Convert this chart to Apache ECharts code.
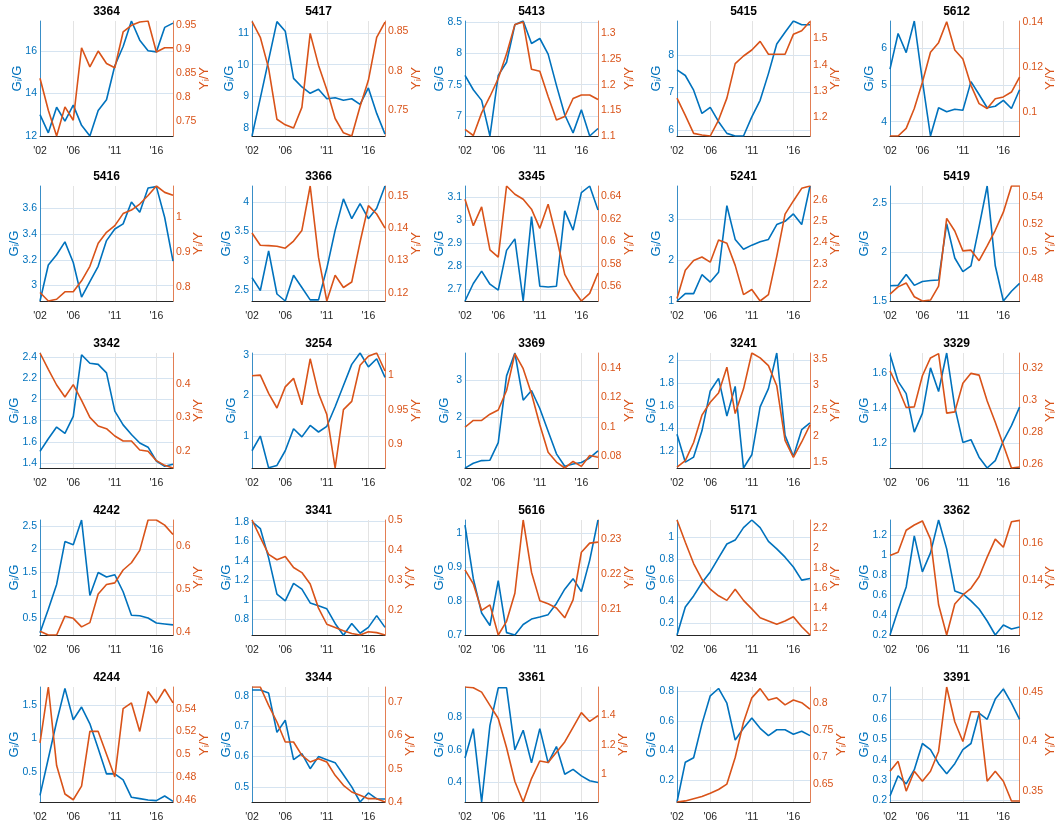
<!DOCTYPE html>
<html>
<head>
<meta charset="utf-8">
<script src="https://cdn.jsdelivr.net/npm/echarts@6/dist/echarts.min.js"></script>
<style>
html, body { margin: 0; padding: 0; background: #fff; }
#main { width: 1058px; height: 825px; }
</style>
</head>
<body>
<div id="main"></div>
<script>
var years = ['2002', '2003', '2004', '2005', '2006', '2007', '2008', '2009', '2010',
	'2011', '2012', '2013', '2014', '2015', '2016', '2017', '2018'];
var shownYears = ['2002', '2006', '2011', '2016'];

var codes = ['3364', '5417', '5413', '5415', '5612',
	'5416', '3366', '3345', '5241', '5419',
	'3342', '3254', '3369', '3241', '3329',
	'4242', '3341', '5616', '5171', '3362',
	'4244', '3344', '3361', '4234', '3391'];

/* G_i/G, left axis */
var giG = [
	[13.0, 12.15, 13.35, 12.7, 13.45, 12.5, 12.0, 13.2, 13.7, 15.3, 16.2, 17.4, 16.5, 16.0, 15.95, 17.1, 17.3],
	[7.76, 8.95, 10.15, 11.35, 11.05, 9.57, 9.3, 9.1, 9.23, 8.93, 8.96, 8.88, 8.93, 8.75, 9.27, 8.47, 7.82],
	[7.65, 7.42, 7.25, 6.68, 7.65, 7.86, 8.46, 8.52, 8.16, 8.24, 7.99, 7.49, 7.02, 6.73, 7.1, 6.68, 6.8],
	[7.6, 7.45, 7.06, 6.44, 6.6, 6.22, 5.91, 5.84, 5.84, 6.35, 6.79, 7.5, 8.29, 8.6, 8.9, 8.8, 8.8],
	[5.43, 6.4, 5.88, 6.74, 5.12, 3.61, 4.38, 4.27, 4.34, 4.31, 5.09, 4.74, 4.38, 4.42, 4.58, 4.36, 4.87],
	[2.88, 3.16, 3.24, 3.34, 3.18, 2.91, 3.03, 3.15, 3.35, 3.44, 3.48, 3.65, 3.57, 3.76, 3.77, 3.53, 3.19],
	[2.71, 2.49, 3.17, 2.43, 2.31, 2.75, 2.54, 2.33, 2.33, 2.87, 3.52, 4.06, 3.72, 3.98, 3.72, 3.9, 4.28],
	[2.647, 2.723, 2.777, 2.72, 2.694, 2.867, 2.917, 2.647, 3.014, 2.711, 2.708, 2.711, 3.039, 2.955, 3.118, 3.147, 3.043],
	[1.0, 1.18, 1.18, 1.64, 1.46, 1.7, 3.32, 2.5, 2.26, 2.36, 2.44, 2.5, 2.86, 2.94, 3.12, 2.86, 3.8],
	[1.656, 1.66, 1.77, 1.66, 1.7, 1.71, 1.715, 2.29, 1.94, 1.8, 1.86, 2.26, 2.676, 1.86, 1.5, 1.6, 1.68],
	[1.51, 1.63, 1.74, 1.68, 1.84, 2.42, 2.34, 2.33, 2.25, 1.89, 1.76, 1.67, 1.59, 1.55, 1.42, 1.37, 1.39],
	[0.64, 1.0, 0.22, 0.28, 0.64, 1.18, 0.98, 1.26, 1.1, 1.24, 1.72, 2.24, 2.76, 3.04, 2.7, 2.9, 2.44],
	[0.65, 0.78, 0.85, 0.86, 1.33, 3.11, 3.72, 2.46, 2.72, 2.24, 1.63, 1.03, 0.7, 0.76, 0.8, 0.92, 1.11],
	[1.35, 1.105, 1.15, 1.38, 1.73, 1.84, 1.51, 1.77, 1.054, 1.17, 1.59, 1.75, 2.063, 1.34, 1.154, 1.39, 1.45],
	[1.706, 1.553, 1.483, 1.263, 1.37, 1.63, 1.495, 1.715, 1.406, 1.204, 1.22, 1.12, 1.058, 1.1, 1.213, 1.3, 1.406],
	[0.18, 0.69, 1.23, 2.16, 2.09, 2.63, 0.99, 1.49, 1.39, 1.44, 1.07, 0.56, 0.55, 0.5, 0.39, 0.37, 0.35],
	[1.8, 1.73, 1.43, 1.06, 0.99, 1.17, 1.11, 0.97, 0.94, 0.91, 0.76, 0.64, 0.76, 0.66, 0.72, 0.84, 0.72],
	[1.024, 0.866, 0.765, 0.728, 0.86, 0.707, 0.7, 0.731, 0.747, 0.753, 0.76, 0.793, 0.835, 0.866, 0.828, 0.92, 1.039],
	[0.086, 0.348, 0.452, 0.575, 0.677, 0.809, 0.938, 0.975, 1.092, 1.163, 1.092, 0.963, 0.892, 0.815, 0.723, 0.6, 0.615],
	[0.2, 0.45, 0.68, 1.19, 0.83, 1.02, 1.348, 1.06, 0.64, 0.61, 0.54, 0.46, 0.34, 0.2, 0.3, 0.26, 0.28],
	[0.15, 0.7, 1.25, 1.75, 1.28, 1.47, 1.22, 0.85, 0.47, 0.47, 0.38, 0.12, 0.1, 0.08, 0.07, 0.14, 0.06],
	[0.82, 0.82, 0.81, 0.68, 0.72, 0.59, 0.61, 0.56, 0.6, 0.59, 0.58, 0.54, 0.5, 0.45, 0.48, 0.46, 0.46],
	[0.55, 0.73, 0.28, 0.75, 0.98, 0.98, 0.6, 0.72, 0.52, 0.73, 0.52, 0.62, 0.45, 0.48, 0.44, 0.41, 0.4],
	[0.05, 0.32, 0.35, 0.58, 0.77, 0.82, 0.72, 0.47, 0.55, 0.62, 0.55, 0.5, 0.54, 0.54, 0.51, 0.53, 0.5],
	[0.22, 0.32, 0.28, 0.35, 0.48, 0.45, 0.38, 0.33, 0.38, 0.45, 0.48, 0.63, 0.6, 0.7, 0.75, 0.68, 0.6]
];

/* Y_i/Y, right axis */
var yiY = [
	[0.839, 0.772, 0.718, 0.779, 0.751, 0.903, 0.863, 0.896, 0.87, 0.861, 0.936, 0.95, 0.957, 0.959, 0.894, 0.903, 0.903],
	[0.862, 0.842, 0.803, 0.739, 0.732, 0.728, 0.754, 0.847, 0.807, 0.776, 0.74, 0.722, 0.718, 0.755, 0.788, 0.842, 0.861],
	[1.113, 1.101, 1.145, 1.177, 1.212, 1.26, 1.317, 1.322, 1.23, 1.226, 1.177, 1.131, 1.138, 1.173, 1.18, 1.18, 1.171],
	[1.272, 1.206, 1.137, 1.131, 1.127, 1.188, 1.272, 1.404, 1.433, 1.456, 1.489, 1.44, 1.44, 1.44, 1.516, 1.53, 1.565],
	[0.0892, 0.0892, 0.0926, 0.1015, 0.1133, 0.1267, 0.131, 0.1404, 0.1277, 0.1237, 0.1119, 0.1037, 0.1015, 0.1059, 0.1067, 0.1089, 0.1156],
	[0.786, 0.762, 0.767, 0.788, 0.788, 0.819, 0.86, 0.925, 0.956, 0.975, 1.009, 1.019, 1.036, 1.06, 1.087, 1.069, 1.061],
	[0.1385, 0.1347, 0.1346, 0.1344, 0.1338, 0.136, 0.1393, 0.1531, 0.131, 0.1174, 0.1254, 0.1216, 0.1233, 0.1357, 0.147, 0.1444, 0.14],
	[0.6376, 0.614, 0.6308, 0.5923, 0.5859, 0.6494, 0.642, 0.6376, 0.6287, 0.6116, 0.6332, 0.6036, 0.5705, 0.557, 0.5467, 0.5535, 0.5717],
	[2.138, 2.27, 2.316, 2.332, 2.308, 2.412, 2.397, 2.293, 2.156, 2.18, 2.126, 2.156, 2.335, 2.533, 2.595, 2.654, 2.665],
	[0.4691, 0.4744, 0.4773, 0.4672, 0.4641, 0.4648, 0.4749, 0.5244, 0.5152, 0.5007, 0.5012, 0.4935, 0.5043, 0.5157, 0.5289, 0.548, 0.548],
	[0.493, 0.444, 0.397, 0.361, 0.398, 0.351, 0.3, 0.274, 0.266, 0.244, 0.229, 0.229, 0.202, 0.198, 0.17, 0.156, 0.148],
	[0.999, 1.0, 0.9736, 0.9524, 0.983, 0.9953, 0.9571, 1.0236, 0.9736, 0.9429, 0.8656, 0.95, 0.962, 1.0142, 1.0274, 1.032, 1.006],
	[0.0998, 0.1044, 0.1044, 0.1086, 0.1114, 0.1246, 0.1495, 0.1393, 0.1224, 0.1015, 0.0829, 0.0763, 0.0723, 0.0767, 0.0734, 0.0807, 0.0796],
	[1.405, 1.53, 1.88, 2.41, 2.66, 2.84, 3.34, 2.44, 2.92, 3.614, 3.52, 3.37, 2.98, 1.92, 1.59, 1.89, 2.22],
	[0.3184, 0.3076, 0.2953, 0.2957, 0.3153, 0.3265, 0.3292, 0.2918, 0.2926, 0.3106, 0.3168, 0.3157, 0.2994, 0.2861, 0.2718, 0.2573, 0.2579],
	[0.402, 0.393, 0.393, 0.437, 0.432, 0.412, 0.422, 0.489, 0.511, 0.515, 0.545, 0.562, 0.591, 0.662, 0.662, 0.65, 0.628],
	[0.5, 0.442, 0.385, 0.367, 0.378, 0.341, 0.324, 0.286, 0.205, 0.151, 0.14, 0.129, 0.12, 0.115, 0.126, 0.123, 0.115],
	[0.2212, 0.2172, 0.2096, 0.2112, 0.2026, 0.2065, 0.2145, 0.2354, 0.2205, 0.2124, 0.2115, 0.2103, 0.2075, 0.2126, 0.2262, 0.2288, 0.2291],
	[2.283, 2.059, 1.845, 1.686, 1.587, 1.521, 1.475, 1.587, 1.475, 1.39, 1.3, 1.267, 1.234, 1.267, 1.31, 1.21, 1.127],
	[0.1533, 0.155, 0.1669, 0.1697, 0.1719, 0.1621, 0.1267, 0.1104, 0.1271, 0.132, 0.1356, 0.1418, 0.1524, 0.1621, 0.1577, 0.1715, 0.1722],
	[0.51, 0.559, 0.49, 0.465, 0.46, 0.472, 0.52, 0.52, 0.5, 0.48, 0.54, 0.545, 0.52, 0.555, 0.545, 0.557, 0.545],
	[0.745, 0.745, 0.69, 0.64, 0.58, 0.58, 0.54, 0.52, 0.53, 0.52, 0.48, 0.45, 0.43, 0.42, 0.41, 0.41, 0.4],
	[1.595, 1.59, 1.56, 1.47, 1.38, 1.18, 0.95, 0.81, 0.97, 1.09, 1.08, 1.15, 1.22, 1.32, 1.42, 1.36, 1.4],
	[0.617, 0.619, 0.623, 0.627, 0.633, 0.64, 0.65, 0.699, 0.764, 0.809, 0.826, 0.805, 0.809, 0.796, 0.805, 0.8, 0.788],
	[0.37, 0.38, 0.35, 0.37, 0.36, 0.37, 0.39, 0.455, 0.42, 0.4, 0.43, 0.43, 0.36, 0.37, 0.36, 0.34, 0.34]
];

/* axis limits and tick steps */
var giRange = [[12, 17.4], [7.76, 11.37], [6.68, 8.52], [5.84, 8.9], [3.61, 6.74],
	[2.88, 3.775], [2.31, 4.28], [2.647, 3.147], [1, 3.8], [1.5, 2.676],
	[1.354, 2.437], [0.216, 3.04], [0.652, 3.72], [1.054, 2.063], [1.058, 1.715],
	[0.13, 2.63], [0.642, 1.817], [0.7, 1.039], [0.086, 1.163], [0.2, 1.348],
	[0.05, 1.77], [0.45, 0.83], [0.28, 0.985], [0.05, 0.83], [0.19, 0.76]];
var giStep = [2, 1, 0.5, 1, 1,
	0.2, 0.5, 0.1, 1, 0.5,
	0.2, 1, 1, 0.2, 0.2,
	0.5, 0.2, 0.1, 0.2, 0.2,
	0.5, 0.1, 0.2, 0.2, 0.1];
var yiRange = [[0.718, 0.959], [0.718, 0.8625], [1.1, 1.324], [1.127, 1.567], [0.0892, 0.1407],
	[0.762, 1.087], [0.1174, 0.1531], [0.5467, 0.6494], [2.126, 2.665], [0.4641, 0.548],
	[0.148, 0.493], [0.8656, 1.032], [0.0723, 0.1499], [1.386, 3.614], [0.2573, 0.3296],
	[0.393, 0.662], [0.115, 0.5], [0.2026, 0.2354], [1.127, 2.283], [0.1104, 0.1724],
	[0.458, 0.559], [0.4, 0.745], [0.81, 1.595], [0.617, 0.829], [0.339, 0.455]];
var yiStep = [0.05, 0.05, 0.05, 0.1, 0.02,
	0.1, 0.01, 0.02, 0.1, 0.02,
	0.1, 0.05, 0.02, 0.5, 0.02,
	0.1, 0.1, 0.01, 0.2, 0.02,
	0.02, 0.1, 0.2, 0.05, 0.05];

var myChart = echarts.init(document.getElementById('main'));

var BLUE = '#0072BD', ORANGE = '#D95319';
var FONT = '"Liberation Sans Narrow", "Liberation Sans", Arial, sans-serif';
var TICK_SIZE = 10.5;
var colLeft = [40, 252, 465, 677, 890];
var rowTop = [21, 186, 353, 520, 687];
var W = 133, H = 115;

var measureCtx = document.createElement('canvas').getContext('2d');
measureCtx.font = TICK_SIZE + 'px ' + FONT;

// only label ticks that are multiples of the step (hides the min/max ends)
function tickText(v, step) {
	var k = v / step;
	if (Math.abs(k - Math.round(k)) > 1e-6) return '';
	return String(parseFloat((Math.round(k) * step).toFixed(6)));
}

// put the axis name just beyond the widest tick label
function nameGap(range, step) {
	var w = 0;
	for (var k = Math.ceil(range[0] / step - 1e-9); k * step <= range[1] + 1e-9; k++) {
		w = Math.max(w, measureCtx.measureText(tickText(k * step, step)).width);
	}
	return Math.max(14, w + 4);
}

function isShown(idx, val) {
	return shownYears.indexOf(val) >= 0;
}

function yAxisFor(i, side) {
	var left = side === 'left';
	var color = left ? BLUE : ORANGE;
	var range = left ? giRange[i] : yiRange[i];
	var step = left ? giStep[i] : yiStep[i];
	return {
		type: 'value',
		gridIndex: i,
		position: side,
		min: range[0],
		max: range[1],
		minInterval: step,
		maxInterval: step,
		name: left ? 'G\u1d62/G' : 'Y\u1d62/Y',
		nameLocation: 'middle',
		nameRotate: 90,
		nameGap: nameGap(range, step),
		nameMoveOverlap: false,
		nameTextStyle: { color: color, fontSize: 13, fontFamily: FONT },
		axisLine: { show: true, lineStyle: { color: color, opacity: 0.75 } },
		axisTick: { show: false },
		axisLabel: {
			color: color,
			fontSize: TICK_SIZE,
			fontFamily: FONT,
			margin: 3,
			formatter: function (v) { return tickText(v, step); }
		},
		splitLine: {
			show: left,
			showMinLine: false,
			showMaxLine: false,
			lineStyle: { color: '#d6e4f1', width: 1 }
		}
	};
}

var titles = [], grids = [], xAxes = [], yAxes = [], series = [];
for (var i = 0; i < codes.length; i++) {
	var r = Math.floor(i / 5), c = i % 5;
	grids.push({ left: colLeft[c], top: rowTop[r], width: W, height: H });
	titles.push({
		text: codes[i],
		left: colLeft[c] + W / 2,
		top: rowTop[r] - 15,
		textAlign: 'center',
		padding: 0,
		textStyle: { fontSize: 12, fontWeight: 'bold', color: '#000', fontFamily: FONT }
	});
	xAxes.push({
		type: 'category',
		gridIndex: i,
		data: years,
		boundaryGap: false,
		axisLine: { lineStyle: { color: '#262626' } },
		axisTick: { show: false },
		axisLabel: {
			interval: isShown,
			formatter: function (v) { return "'" + v.slice(2); },
			color: '#262626',
			fontSize: TICK_SIZE,
			fontFamily: FONT,
			margin: 10
		},
		splitLine: { show: true, interval: isShown, lineStyle: { color: '#e3e3e3', width: 1 } }
	});
	yAxes.push(yAxisFor(i, 'left'));
	yAxes.push(yAxisFor(i, 'right'));
	series.push({
		type: 'line', xAxisIndex: i, yAxisIndex: 2 * i, data: giG[i],
		symbol: 'none', lineStyle: { color: BLUE, width: 1.6 }, itemStyle: { color: BLUE }
	});
	series.push({
		type: 'line', xAxisIndex: i, yAxisIndex: 2 * i + 1, data: yiY[i],
		symbol: 'none', lineStyle: { color: ORANGE, width: 1.6 }, itemStyle: { color: ORANGE }
	});
}

myChart.setOption({
	animation: false,
	backgroundColor: '#fff',
	title: titles,
	grid: grids,
	xAxis: xAxes,
	yAxis: yAxes,
	series: series
});
</script>
</body>
</html>
